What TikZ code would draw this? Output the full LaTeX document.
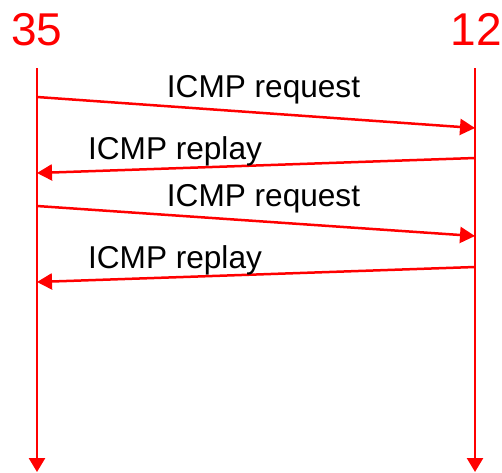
\documentclass[tikz,border=0pt]{standalone}
\usepackage{fontspec}
\setmainfont{Liberation Sans}
\usetikzlibrary{arrows.meta}
\begin{document}
\begin{tikzpicture}[x=1pt,y=-1pt,
  msg/.style={draw=red,line width=2.5pt,-{Triangle[length=15pt,width=16pt]}},
  life/.style={draw=red,line width=2.5pt,-{Triangle[length=14pt,width=16pt]}},
  host/.style={text=red,inner sep=0pt,anchor=base,font=\fontsize{46}{50}\selectfont},
  lbl/.style={text=black,inner sep=0pt,anchor=base,font=\fontsize{31.6}{36}\selectfont}]
\useasboundingbox (0,0) rectangle (502,472);
\node[host] (h35) at (37,45) {35};
\node[host] (h12) at (476,45) {12};
% lifelines
\coordinate (lt) at (37,68);
\coordinate (lb) at (37,472);
\coordinate (rt) at (475,68);
\coordinate (rb) at (475,472);
\draw[life] (lt) -- (lb);
\draw[life] (rt) -- (rb);
% message endpoints
\coordinate (a1) at (37,97);   \coordinate (b1) at (475,128);
\coordinate (a2) at (475,158); \coordinate (b2) at (37,173);
\coordinate (a3) at (37,206);  \coordinate (b3) at (475,236);
\coordinate (a4) at (475,267); \coordinate (b4) at (37,282);
\draw[msg] (a1) -- (b1);
\draw[msg] (a2) -- (b2);
\draw[msg] (a3) -- (b3);
\draw[msg] (a4) -- (b4);
\node[lbl] (m1) at (263.5,97) {ICMP request};
\node[lbl] (m2) at (175,159) {ICMP replay};
\node[lbl] (m3) at (263.5,206) {ICMP request};
\node[lbl] (m4) at (175,268) {ICMP replay};
\end{tikzpicture}
\end{document}
